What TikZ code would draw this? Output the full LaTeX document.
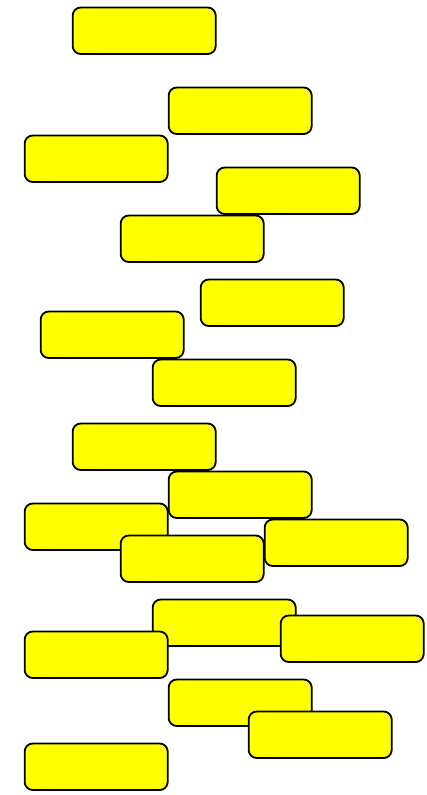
\documentclass[tikz,border=0pt]{standalone}
\definecolor{boxyellow}{RGB}{255,255,0}
\begin{document}
\begin{tikzpicture}[x=1pt,y=-1pt,
  box/.style={draw=black,fill=boxyellow,line width=1.8pt,rounded corners=8pt,
    minimum width=143pt,minimum height=46.5pt,inner sep=0pt,anchor=north west}]
\useasboundingbox (0,0) rectangle (427,795);
\node[box] (b1) at (71.8,6.6) {};
\node[box] (b2) at (167.8,86.6) {};
\node[box] (b3) at (23.8,134.6) {};
\node[box] (b4) at (215.8,166.6) {};
\node[box] (b5) at (119.8,214.6) {};
\node[box] (b6) at (199.8,278.6) {};
\node[box] (b7) at (39.8,310.6) {};
\node[box] (b8) at (151.8,358.6) {};
\node[box] (b9) at (71.8,422.6) {};
\node[box] (b10) at (167.8,470.6) {};
\node[box] (b11) at (23.8,502.6) {};
\node[box] (b12) at (263.8,518.6) {};
\node[box] (b13) at (119.8,534.6) {};
\node[box] (b14) at (151.8,598.6) {};
\node[box] (b15) at (279.8,614.6) {};
\node[box] (b16) at (23.8,630.6) {};
\node[box] (b17) at (167.8,678.6) {};
\node[box] (b18) at (247.8,710.6) {};
\node[box] (b19) at (23.8,742.6) {};
\end{tikzpicture}
\end{document}
